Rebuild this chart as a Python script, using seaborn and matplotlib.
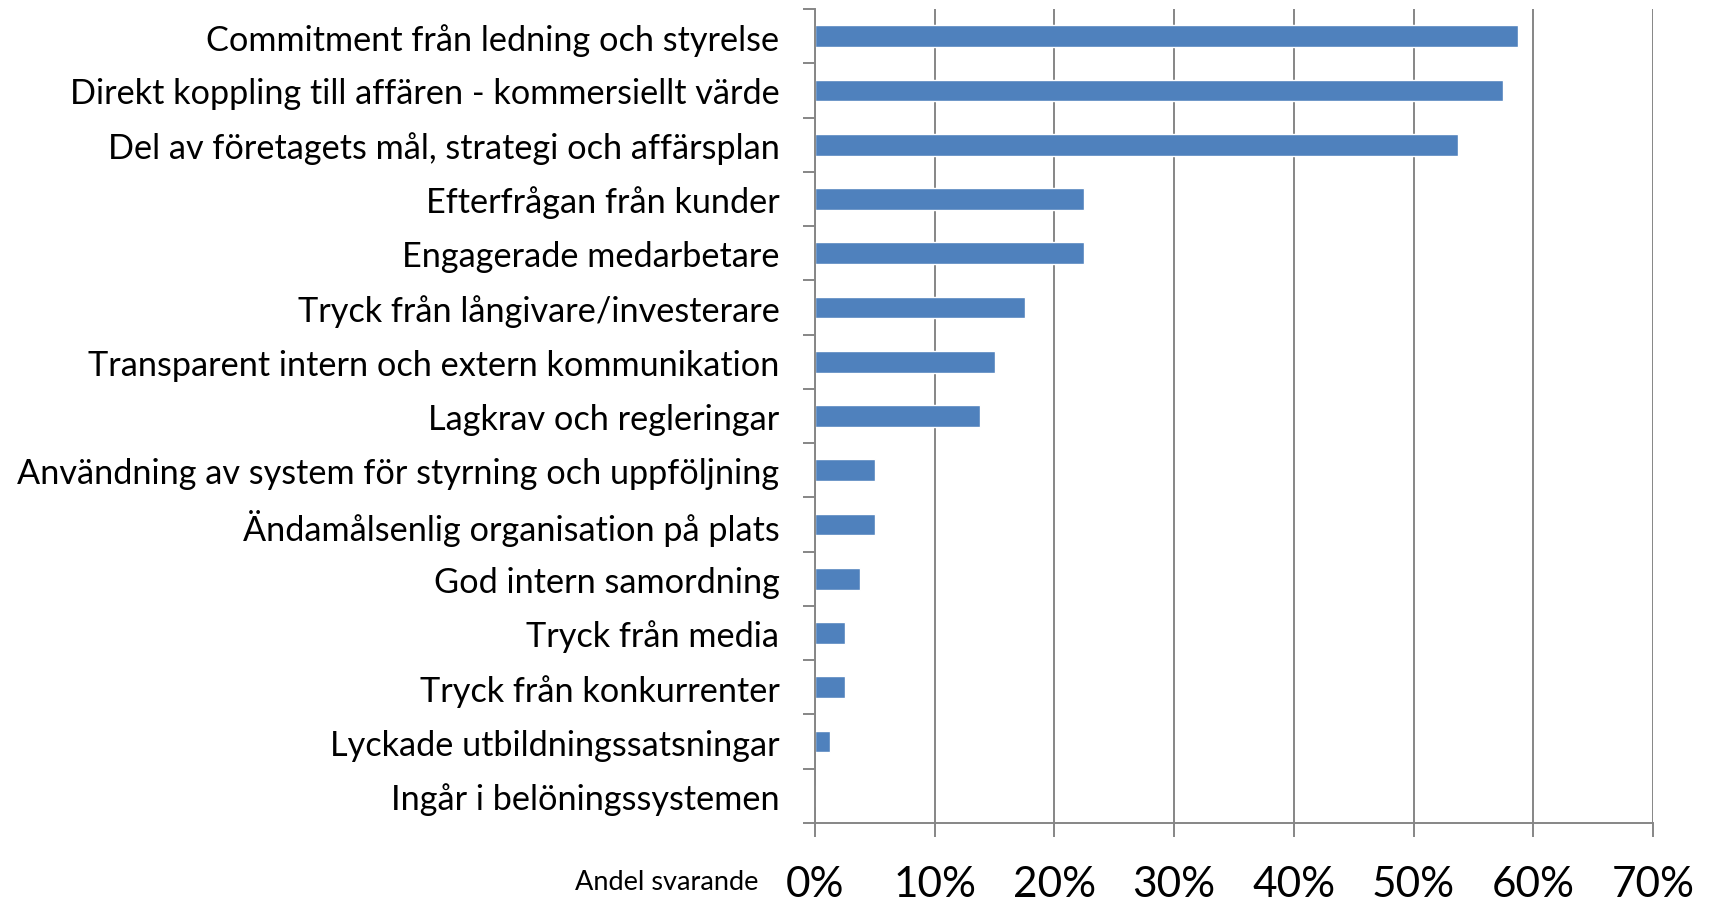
import matplotlib
matplotlib.use("Agg")
import matplotlib.pyplot as plt
from matplotlib.ticker import FixedLocator, PercentFormatter
import pandas as pd
import seaborn as sns

# Survey: what drives sustainability work (share of respondents)
categories = [
    "Commitment från ledning och styrelse",
    "Direkt koppling till affären - kommersiellt värde",
    "Del av företagets mål, strategi och affärsplan",
    "Efterfrågan från kunder",
    "Engagerade medarbetare",
    "Tryck från långivare/investerare",
    "Transparent intern och extern kommunikation",
    "Lagkrav och regleringar",
    "Användning av system för styrning och uppföljning",
    "Ändamålsenlig organisation på plats",
    "God intern samordning",
    "Tryck från media",
    "Tryck från konkurrenter",
    "Lyckade utbildningssatsningar",
    "Ingår i belöningssystemen",
]
shares = [0.5875, 0.575, 0.5375, 0.225, 0.225, 0.175, 0.15, 0.1375,
          0.05, 0.05, 0.0375, 0.025, 0.025, 0.0125, 0.0]
x_ticks = [0.0, 0.1, 0.2, 0.3, 0.4, 0.5, 0.6, 0.7]
x_title = "Andel svarande"

df = pd.DataFrame({"kategori": categories, "andel": shares})

sns.set_theme(style="white")
plt.rcParams["font.family"] = ["Lato", "DejaVu Sans"]

W, H = 1712, 903
fig = plt.figure(figsize=(W / 100, H / 100), dpi=100)
ax = fig.add_axes([815 / W, 1 - 824 / H, (1653 - 815) / W, (824 - 10) / H])

grey = "#868686"
ax.set_axisbelow(True)
for xv in x_ticks:
    ax.axvline(xv, color=grey, lw=1.4, zorder=0)

sns.barplot(data=df, x="andel", y="kategori", color="#4F81BD",
            width=0.4, saturation=1, ax=ax, zorder=2)

ax.set_xlim(0, 0.7)
ax.set_ylim(len(categories) - 0.5, -0.5)
ax.set_xlabel("")
ax.set_ylabel("")

for side in ("top", "right"):
    ax.spines[side].set_visible(False)
for side in ("left", "bottom"):
    ax.spines[side].set_color(grey)
    ax.spines[side].set_linewidth(1.4)

ax.xaxis.set_major_locator(FixedLocator(x_ticks))
ax.xaxis.set_major_formatter(PercentFormatter(1.0, decimals=0))
ax.tick_params(axis="x", which="major", direction="out", length=10,
               width=1.4, color=grey, labelsize=30.5, pad=20, bottom=True)

ax.set_yticks([i - 0.5 for i in range(len(categories) + 1)], minor=True)
ax.tick_params(axis="y", which="minor", direction="out", length=8.6,
               width=1.4, color=grey, left=True)
ax.tick_params(axis="y", which="major", length=8.6, width=0,
               labelsize=24.7, pad=17, left=True)

for lbl in ax.get_xticklabels() + ax.get_yticklabels():
    lbl.set_color("black")

fig.text(758 / W, 1 - 883 / H, x_title, ha="right", va="center",
         fontsize=19.5, color="black")

fig.savefig("out.png", dpi=100, facecolor="white")
